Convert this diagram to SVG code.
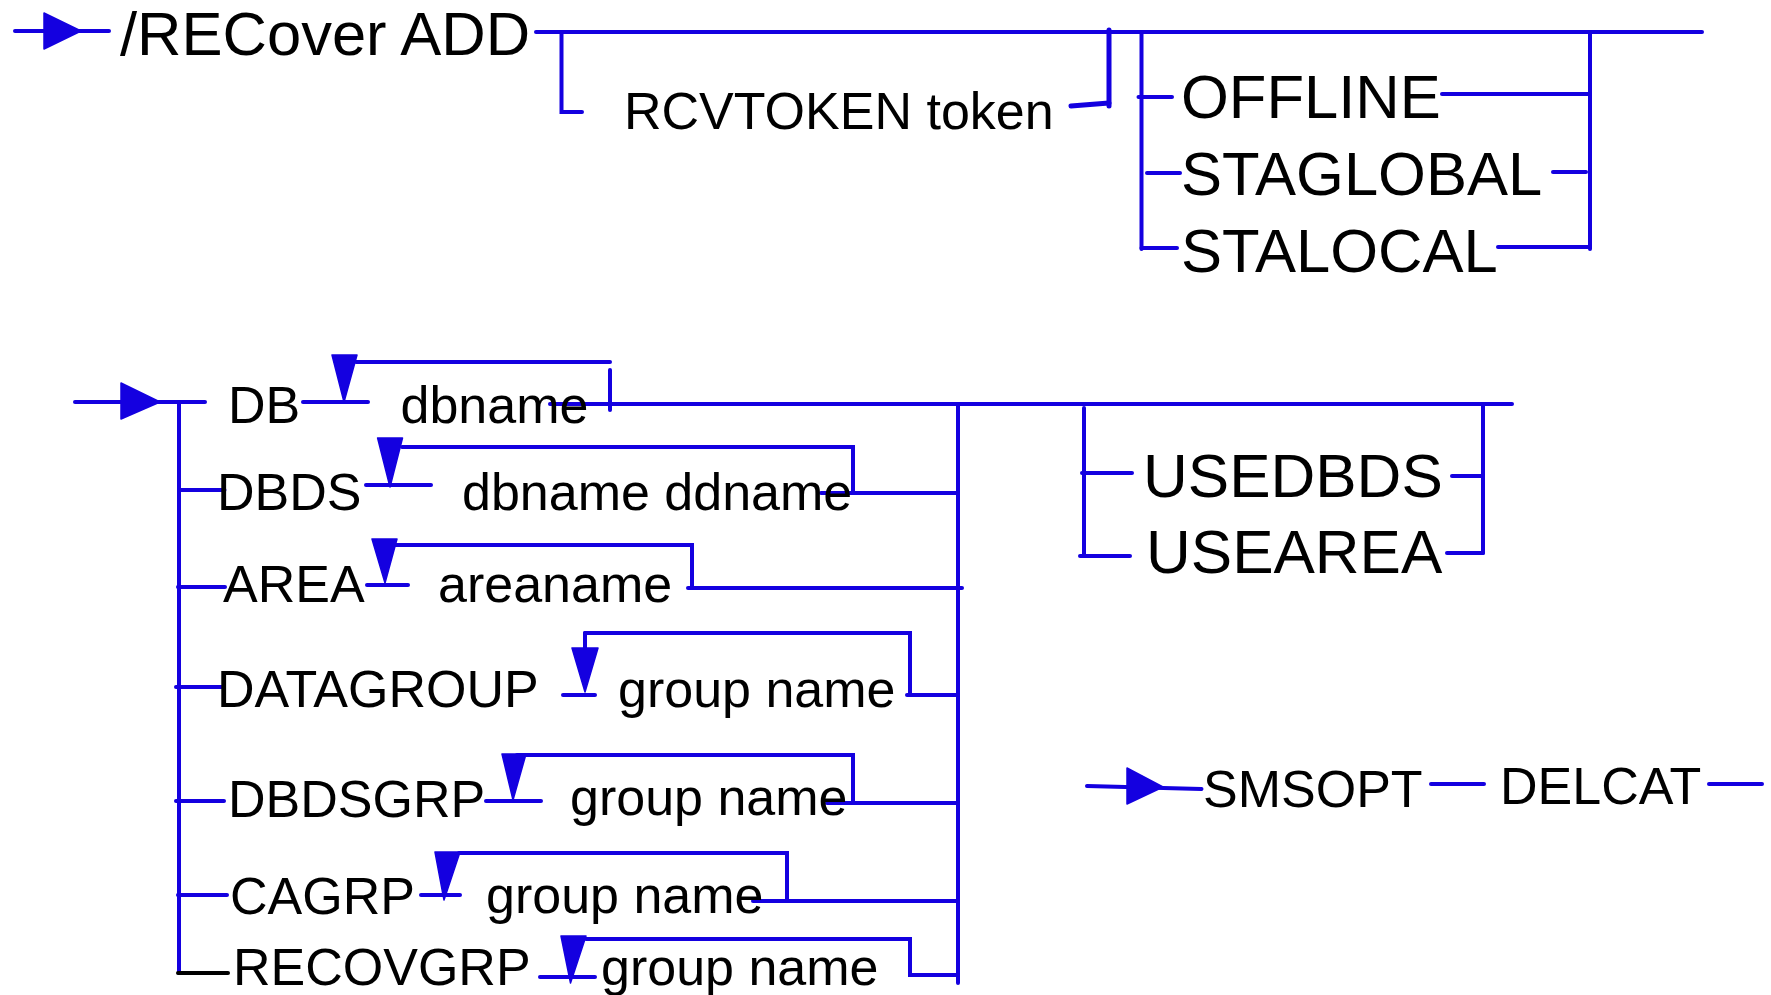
<svg xmlns="http://www.w3.org/2000/svg" width="1771" height="995" viewBox="0 0 1771 995">
<style>
.ln{stroke:#1400E0;stroke-width:4;stroke-linecap:round;fill:none}
.bk{stroke:#000;stroke-width:4;stroke-linecap:round;fill:none}
.thick{stroke-width:5}
.ah{fill:#1400E0;stroke:#1400E0;stroke-width:1.5;stroke-linejoin:round}
text{font-family:"Liberation Sans",Arial,sans-serif;fill:#000}
.f61{font-size:61.5px}
.f52{font-size:52px}
.f62{font-size:62px}
</style>
<rect width="1771" height="995" fill="#fff"/>
<g id="connectors">
  <line class="ln" x1="15" y1="31" x2="109" y2="31"/>
  <polygon class="ah" points="44,13 44,49 81,31"/>
  <line class="ln" x1="536" y1="32" x2="1702" y2="32"/>
  <polyline class="ln" points="561.5,32 561.5,112 582,112"/>
  <line class="ln thick" x1="1109" y1="30" x2="1109" y2="106"/>
  <line class="ln thick" x1="1071" y1="106" x2="1109" y2="103"/>
  <line class="ln" x1="1141.5" y1="32" x2="1141.5" y2="249"/>
  <line class="ln" x1="1138.5" y1="97" x2="1172" y2="97"/>
  <line class="ln" x1="1147" y1="173" x2="1180" y2="173"/>
  <line class="ln" x1="1141.5" y1="248" x2="1177" y2="248"/>
  <line class="ln" x1="1590" y1="32" x2="1590" y2="249"/>
  <line class="ln" x1="1442" y1="94" x2="1590" y2="94"/>
  <line class="ln" x1="1553" y1="172" x2="1586" y2="172"/>
  <line class="ln" x1="1498" y1="247" x2="1590" y2="247"/>
  <line class="ln" x1="75" y1="402" x2="205" y2="402"/>
  <polygon class="ah" points="121,383 121,419 160,402"/>
  <line class="ln" x1="179" y1="402" x2="179" y2="973"/>
  <line class="ln" x1="179" y1="490" x2="224.5" y2="490"/>
  <line class="ln" x1="178" y1="587" x2="225" y2="587"/>
  <line class="ln" x1="176" y1="687" x2="224" y2="687"/>
  <line class="ln" x1="176" y1="801" x2="224" y2="801"/>
  <line class="ln" x1="178" y1="895" x2="227" y2="895"/>
  <line class="bk" x1="178" y1="973" x2="228" y2="973"/>
  <line class="ln" x1="303" y1="402" x2="368" y2="402"/>
  <polygon class="ah" points="332,355 357,355 344,402"/>
  <line class="ln" x1="356" y1="362" x2="610" y2="362"/>
  <line class="ln" x1="610" y1="370" x2="610" y2="410"/>
  <line class="ln" x1="550" y1="404" x2="1512" y2="404"/>
  <line class="ln" x1="366" y1="485" x2="431" y2="485"/>
  <polygon class="ah" points="377.6,438 402.5,438 390,487"/>
  <polyline class="ln" points="402,447 853,447 853,493"/>
  <line class="ln" x1="821" y1="493" x2="958" y2="493"/>
  <line class="ln" x1="367" y1="585" x2="408" y2="585"/>
  <polygon class="ah" points="372,539 397,539 385,583"/>
  <polyline class="ln" points="393,545 692,545 692,588"/>
  <line class="ln" x1="688" y1="588" x2="962" y2="588"/>
  <line class="ln" x1="563" y1="695" x2="595" y2="695"/>
  <line class="ln" x1="585" y1="633" x2="585" y2="648"/>
  <polygon class="ah" points="572,648 598,648 585,692"/>
  <polyline class="ln" points="585,633 910,633 910,695"/>
  <line class="ln" x1="907" y1="695" x2="958" y2="695"/>
  <line class="ln" x1="486" y1="801" x2="541" y2="801"/>
  <polygon class="ah" points="502,754 526,754 513,800"/>
  <polyline class="ln" points="517,755 853,755 853,803"/>
  <line class="ln" x1="827" y1="803" x2="958" y2="803"/>
  <line class="ln" x1="421" y1="895" x2="460" y2="895"/>
  <polygon class="ah" points="435,852 460,852 444,900"/>
  <polyline class="ln" points="459,853 787,853 787,901"/>
  <line class="ln" x1="753" y1="901" x2="958" y2="901"/>
  <line class="ln" x1="540" y1="977" x2="595" y2="977"/>
  <polygon class="ah" points="561,936 586,936 570.5,983"/>
  <polyline class="ln" points="586,939 910,939 910,975 958,975"/>
  <line class="ln" x1="958" y1="404" x2="958" y2="983"/>
  <line class="ln" x1="1084" y1="408" x2="1084" y2="556"/>
  <line class="ln" x1="1082" y1="473" x2="1132" y2="473"/>
  <line class="ln" x1="1080" y1="556" x2="1130" y2="556"/>
  <line class="ln" x1="1483" y1="404" x2="1483" y2="553"/>
  <line class="ln" x1="1452" y1="476" x2="1483" y2="476"/>
  <line class="ln" x1="1447" y1="553" x2="1483" y2="553"/>
  <line class="ln" x1="1087" y1="786" x2="1201.5" y2="789"/>
  <polygon class="ah" points="1127,768 1127,804 1163,787"/>
  <line class="ln" x1="1431" y1="784" x2="1484" y2="784"/>
  <line class="ln" x1="1709" y1="784" x2="1762" y2="784"/>
</g>
<g id="n-recover"><text class="f61" x="120" y="55" font-size="62">/RECover ADD</text></g>
<g id="n-rcvtoken"><text class="f52" x="624" y="129">RCVTOKEN token</text></g>
<g id="n-offline"><text class="f61" x="1181" y="118">OFFLINE</text></g>
<g id="n-staglobal"><text class="f61" x="1181" y="195">STAGLOBAL</text></g>
<g id="n-stalocal"><text class="f61" x="1181" y="272">STALOCAL</text></g>
<g id="n-db"><text class="f52" x="228" y="423">DB</text></g>
<g id="n-dbname"><text class="f52" x="400.5" y="423">dbname</text></g>
<g id="n-dbds"><text class="f52" x="217" y="510">DBDS</text></g>
<g id="n-dbname-ddname"><text class="f52" x="462" y="510">dbname ddname</text></g>
<g id="n-area"><text class="f52" x="223" y="602">AREA</text></g>
<g id="n-areaname"><text class="f52" x="438" y="602">areaname</text></g>
<g id="n-datagroup"><text class="f52" x="217" y="707">DATAGROUP</text></g>
<g id="n-datagroup-name"><text class="f52" x="618" y="707">group name</text></g>
<g id="n-dbdsgrp"><text class="f52" x="228" y="817">DBDSGRP</text></g>
<g id="n-dbdsgrp-name"><text class="f52" x="570" y="815">group name</text></g>
<g id="n-cagrp"><text class="f52" x="230" y="914">CAGRP</text></g>
<g id="n-cagrp-name"><text class="f52" x="486" y="913">group name</text></g>
<g id="n-recovgrp"><text class="f52" x="233" y="985">RECOVGRP</text></g>
<g id="n-recovgrp-name"><text class="f52" x="601" y="985">group name</text></g>
<g id="n-usedbds"><text class="f62" x="1143" y="497">USEDBDS</text></g>
<g id="n-usearea"><text class="f62" x="1146" y="573">USEAREA</text></g>
<g id="n-smsopt"><text class="f52" x="1203" y="807">SMSOPT</text></g>
<g id="n-delcat"><text class="f52" x="1500" y="804">DELCAT</text></g>
</svg>
